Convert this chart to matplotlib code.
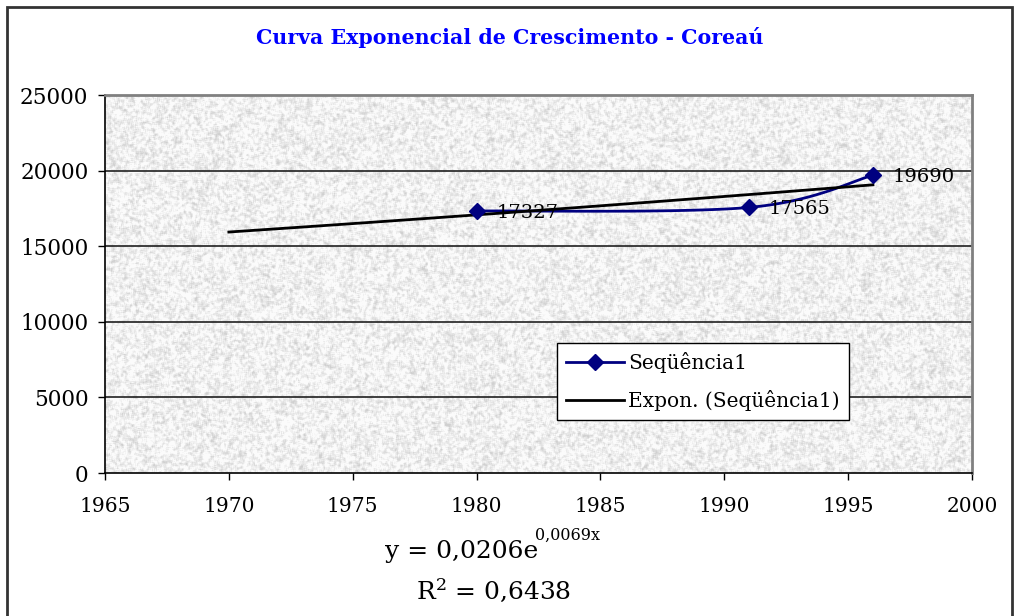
import numpy as np
import matplotlib
matplotlib.use('Agg')
import matplotlib.pyplot as plt
from matplotlib.patches import Rectangle

# dados
anos = [1980, 1991, 1996]
populacao = [17327, 17565, 19690]
anos_tendencia = [1970, 1996]
xticks = list(range(1965, 2001, 5))
yticks = list(range(0, 25001, 5000))
titulo = 'Curva Exponencial de Crescimento - Coreaú'
nome_serie = 'Seqüência1'
nome_tendencia = 'Expon. (Seqüência1)'
equacao = 'y = 0,0206e'
expoente = '0,0069x'
texto_r2 = 'R$^2$ = 0,6438'

plt.rcParams['font.family'] = 'DejaVu Serif'
plt.rcParams['mathtext.fontset'] = 'dejavuserif'

W, H = 1015, 616
fig = plt.figure(figsize=(W / 100, H / 100), dpi=100)
ax = fig.add_axes([105 / W, 1 - 473 / H, 867 / W, 378 / H])


def borra(a, r):
    # media movel simples (box blur) nas duas direcoes
    if r < 1:
        return a
    k = 2 * r + 1
    p = np.pad(a, r, mode='wrap')
    c = np.cumsum(p, axis=0)
    c = np.vstack([np.zeros((1, c.shape[1])), c])
    a = (c[k:] - c[:-k]) / k
    c = np.cumsum(a, axis=1)
    c = np.hstack([np.zeros((c.shape[0], 1)), c])
    return (c[:, k:] - c[:, :-k]) / k


# textura tipo "granito" do fundo (so estilo, nao dados)
rng = np.random.default_rng(7)
th, tw = 378, 867
t1 = borra(rng.random((th, tw)), 1)
t2 = borra(rng.random((th, tw)), 3)
tex = 0.6 * t1 + 0.4 * t2
tex = (tex - tex.mean()) / tex.std()
tex = 0.94 + 0.045 * np.clip(tex, -2.8, 0.9)
ax.imshow(tex, cmap='gray', vmin=0, vmax=1, extent=[1965, 2000, 0, 25000],
          aspect='auto', zorder=0, interpolation='nearest')

# linhas de grade
for v in yticks[1:-1]:
    ax.axhline(v, color='#202020', lw=1.2, zorder=1)


def suaviza(x, y, n=60):
    # curva suavizada estilo Excel (bezier), calculada em escala de pixels
    sx, sy = 867 / 35.0, 378 / 25000.0
    P = np.column_stack([(np.array(x) - 1965) * sx, np.array(y) * sy])
    out = []
    for i in range(len(P) - 1):
        p0, p3 = P[i], P[i + 1]
        pa = P[i - 1] if i > 0 else P[i]
        pb = P[i + 2] if i + 2 < len(P) else P[i + 1]
        c1 = p0 + (p3 - pa) / 6.0
        c2 = p3 - (pb - p0) / 6.0
        t = np.linspace(0, 1, n)[:, None]
        b = ((1 - t) ** 3) * p0 + 3 * ((1 - t) ** 2) * t * c1 + 3 * (1 - t) * t ** 2 * c2 + t ** 3 * p3
        out.append(b)
    out = np.vstack(out)
    return out[:, 0] / sx + 1965, out[:, 1] / sy


# linha de tendencia exponencial (ajuste nos dados)
b, a = np.polyfit(anos, np.log(populacao), 1)
xt = np.linspace(anos_tendencia[0], anos_tendencia[1], 50)
yt = np.exp(a + b * xt)

xs, ys = suaviza(anos, populacao)
ax.plot(xs, ys, color='#000080', lw=2, zorder=3)
ax.plot(anos, populacao, ls='none', marker='D', ms=8, color='#000080', zorder=4)
ax.plot(xt, yt, color='black', lw=2, zorder=3)

# proxies para a legenda
h1, = ax.plot([], [], color='#000080', lw=2, marker='D', ms=8, label=nome_serie)
h2, = ax.plot([], [], color='black', lw=2, label=nome_tendencia)

for xa, ya in zip(anos, populacao):
    ax.annotate(str(ya), (xa, ya), xytext=(20, -2), textcoords='offset pixels',
                ha='left', va='center', fontsize=14, zorder=5)

ax.set_xlim(1965, 2000)
ax.set_ylim(0, 25000)
ax.set_xticks(xticks)
ax.set_yticks(yticks)
ax.tick_params(axis='both', direction='out', length=5, width=1, color='black')
ax.tick_params(axis='x', pad=12, labelsize=14.5)
ax.tick_params(axis='y', pad=7, labelsize=15.5)
for s in ['left', 'bottom']:
    ax.spines[s].set_color('black')
    ax.spines[s].set_linewidth(1.2)
for s in ['top', 'right']:
    ax.spines[s].set_color('#808080')
    ax.spines[s].set_linewidth(2)

leg = ax.legend(handles=[h1, h2], loc='upper left', bbox_to_anchor=(0.521, 0.344),
                borderaxespad=0, fancybox=False, framealpha=1, edgecolor='black',
                fontsize=14.5, handlelength=2.9, handletextpad=0.2, borderpad=0.45,
                labelspacing=0.85)
leg.get_frame().set_linewidth(1)
leg.set_zorder(6)

fig.text(510 / W, 1 - 44 / H, titulo, ha='center', va='baseline', color='#0000FF',
         fontsize=14.75, fontweight='bold')

t_eq = fig.text(385 / W, 1 - 558 / H, equacao, ha='left', va='baseline', fontsize=18)
fig.canvas.draw()
bb = t_eq.get_window_extent()
fig.text((bb.x1 - 3) / W, 1 - 540 / H, expoente, ha='left', va='baseline', fontsize=11.5)
fig.text(493 / W, 1 - 599 / H, texto_r2, ha='center', va='baseline', fontsize=18)

fig.patches.append(Rectangle((7 / W, -0.1), 1005 / W, 1.1 - 7 / H, transform=fig.transFigure,
                             fill=False, edgecolor='#333333', lw=2, clip_on=False))

fig.savefig('out.png', dpi=100)
